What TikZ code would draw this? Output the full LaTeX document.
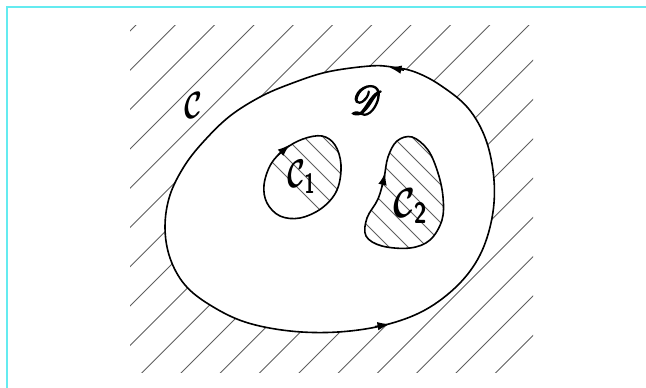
\documentclass[tikz,border=0pt]{standalone}
\usepackage{graphicx}
\usepackage{mathrsfs}
\usetikzlibrary{arrows.meta}
\definecolor{framecyan}{RGB}{100,235,240}
\definecolor{hatchgray}{RGB}{95,95,95}
\tikzset{
  curve/.style={line width=1.6pt, black},
  hatchline/.style={line width=0.9pt, hatchgray},
  innerhatch/.style={line width=0.8pt, hatchgray},
  tipmark/.style={line width=1.6pt, -{Latex[length=12.5pt,width=8.5pt]}},
  lbl/.style={inner sep=0pt, black}
}
\begin{document}
\begin{tikzpicture}[x=1pt,y=-1pt]
\useasboundingbox (0,0) rectangle (646,388);
% frame
\draw[framecyan, line width=2pt] (7,388) -- (7,7) -- (646,7);
% saved paths
\path[save path=\pOuter] plot[smooth cycle, tension=0.6] coordinates {
 (392,67) (370,66) (327,72) (290,84) (260,97) (230,116) (205,140) (185,165)
 (170,195) (165,227) (170,258) (185,285) (210,305) (245,322) (290,331)
 (338,332) (385,325) (425,310) (458,285) (480,255) (492,218) (494,180)
 (486,140) (468,108) (440,85) (415,72)};
\path[save path=\pOne] plot[smooth cycle, tension=0.6] coordinates {
 (303,139) (322,136) (335,145) (341,165) (337,190) (322,208) (300,218)
 (280,216) (267,203) (264,185) (271,164) (285,149)};
\path[save path=\pTwo] plot[smooth cycle, tension=0.6] coordinates {
 (412,137) (428,150) (438,173) (443,197) (442,220) (430,240) (410,248)
 (382,246) (366,236) (367,218) (378,199) (384,178) (388,157) (397,141)};
% outer hatching
\begin{scope}
\clip (130,25) rectangle (533,372);
\foreach \k in {-1,...,19} {
  \pgfmathsetmacro\cc{161+39.3*\k}
  \draw[hatchline] (\cc,0) -- ({\cc-420},420);
}
\end{scope}
\fill[white, use path=\pOuter];
% inner hatching
\begin{scope}
\clip[use path=\pOne];
\foreach \k in {0,...,12} {
  \pgfmathsetmacro\cc{110+19*\k}
  \draw[innerhatch] (\cc,0) -- ({\cc+420},420);
}
\end{scope}
\begin{scope}
\clip[use path=\pTwo];
\foreach \k in {0,...,12} {
  \pgfmathsetmacro\cc{104+19*\k}
  \draw[innerhatch] (\cc,0) -- ({\cc+420},420);
}
\end{scope}
% contours
\draw[curve, use path=\pOuter];
\draw[curve, use path=\pOne];
\draw[curve, use path=\pTwo];
% arrow heads
\coordinate (ta1) at (404,70.2);
\coordinate (ta2) at (389,67.2);
\coordinate (ba1) at (375,326.6);
\coordinate (ba2) at (390,324.1);
\coordinate (oa1) at (278,155);
\coordinate (oa2) at (290,144.5);
\coordinate (wa1) at (382,187);
\coordinate (wa2) at (385.3,172.5);
\draw[tipmark] (ta1) -- (ta2);
\draw[tipmark] (ba1) -- (ba2);
\draw[tipmark] (oa1) -- (oa2);
\draw[tipmark] (wa1) -- (wa2);
% labels
\node[lbl] (lC) at (193,105) {\scalebox{2.7}[3.8]{\boldmath$\mathcal{C}$}};
\node[lbl] (lD) at (366,100) {\scalebox{3.6}[4.0]{\special{pdf:literal 2 Tr 0.35 w}$\mathscr{D}$\special{pdf:literal 0 Tr}}};
\node[lbl] (lC1) at (302,177) {\scalebox{2.7}[4.0]{\boldmath$\mathcal{C}_{\mathsf{1}}$}};
\node[lbl] (lC2) at (411,206) {\scalebox{3.3}[4.2]{\boldmath$\mathcal{C}_{\mathsf{2}}$}};
\end{tikzpicture}
\end{document}
